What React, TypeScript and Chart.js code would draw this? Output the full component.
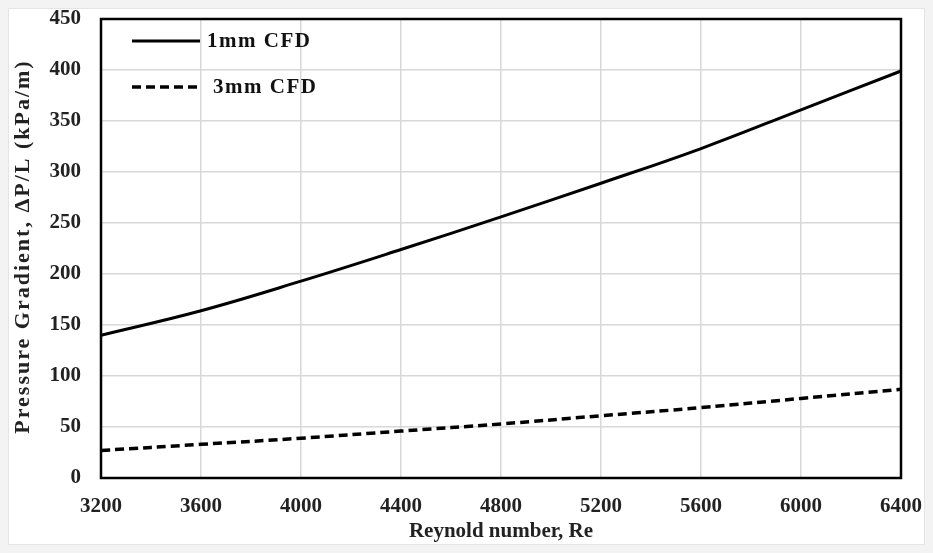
import { useEffect, useRef } from "react";
import { Chart, registerables } from "chart.js";

Chart.register(...registerables);

const reynolds = [3200, 3600, 4000, 4400, 4800, 5200, 5600, 6000, 6400];
const cfd1mm = [140, 164, 193, 224, 256, 289, 323, 361, 399];
const cfd3mm = [27, 33, 39, 46, 53, 61, 69, 78, 87];
const seriesNames = ["1mm CFD", "3mm CFD"];
const xTitle = "Reynold number, Re";
const yTitle = "Pressure Gradient, \u0394P/L (kPa/m)";

const FONT = "'Liberation Serif', 'Times New Roman', serif";

const boxAndLegend = {
  id: "boxAndLegend",
  afterDatasetsDraw(chart: any) {
    const { ctx, chartArea } = chart;
    ctx.save();
    ctx.strokeStyle = "#000";
    ctx.lineWidth = 2.5;
    ctx.strokeRect(chartArea.left, chartArea.top, chartArea.right - chartArea.left, chartArea.bottom - chartArea.top);
    const items = chart.data.datasets;
    const x0 = chartArea.left + 31;
    const x1 = chartArea.left + 99;
    const ys = [chartArea.top + 22, chartArea.top + 68];
    const tx = [chartArea.left + 106, chartArea.left + 112];
    items.forEach((ds: any, i: number) => {
      ctx.beginPath();
      ctx.lineWidth = ds.borderWidth;
      ctx.setLineDash(ds.borderDash || []);
      ctx.moveTo(x0, ys[i]);
      ctx.lineTo(x1, ys[i]);
      ctx.stroke();
      ctx.setLineDash([]);
      ctx.fillStyle = "#111";
      ctx.font = `bold 21px ${FONT}`;
      (ctx as any).letterSpacing = "1.5px";
      ctx.textBaseline = "middle";
      ctx.textAlign = "left";
      ctx.fillText(ds.label, tx[i], ys[i] + 1);
    });
    // y-axis title
    (ctx as any).letterSpacing = "2px";
    ctx.font = `bold 22px ${FONT}`;
    ctx.fillStyle = "#222";
    ctx.translate(14, (chartArea.top + chartArea.bottom) / 2 - 2);
    ctx.rotate(-Math.PI / 2);
    ctx.textAlign = "center";
    ctx.textBaseline = "middle";
    ctx.fillText(yTitle, 0, 0);
    ctx.restore();
  },
};

export default function App() {
  const ref = useRef<HTMLCanvasElement>(null);
  useEffect(() => {
    document.body.style.background = "#f3f3f3";
    const chart = new Chart(ref.current!, {
      type: "line",
      data: {
        datasets: [
          {
            label: seriesNames[0],
            data: reynolds.map((x, i) => ({ x, y: cfd1mm[i] })),
            borderColor: "#000",
            borderWidth: 3,
            pointRadius: 0,
            tension: 0.4,
            fill: false,
          },
          {
            label: seriesNames[1],
            data: reynolds.map((x, i) => ({ x, y: cfd3mm[i] })),
            borderColor: "#000",
            borderWidth: 3.5,
            borderDash: [9, 5],
            pointRadius: 0,
            tension: 0.4,
            fill: false,
          },
        ],
      },
      options: {
        animation: false,
        responsive: false,
        layout: { padding: { left: 0, top: 10, right: 23, bottom: 0 } },
        plugins: { legend: { display: false }, tooltip: { enabled: false } },
        scales: {
          x: {
            type: "linear",
            min: 3200,
            max: 6400,
            ticks: {
              stepSize: 400,
              color: "#222",
              font: { family: FONT, size: 21, weight: "bold" },
              padding: 16,
              maxRotation: 0,
              callback: (v: any) => String(v),
            },
            grid: { color: "#d8d8d8", lineWidth: 1.5, drawTicks: false },
            border: { display: false },
            title: {
              display: true,
              text: xTitle,
              color: "#222",
              font: { family: FONT, size: 21, weight: "bold" },
              padding: { top: 0, bottom: 0 },
            },
            afterFit(scale: any) {
              scale.height = 66;
              scale.paddingLeft = 0;
              scale.paddingRight = 0;
            },
          },
          y: {
            min: 0,
            max: 450,
            ticks: {
              stepSize: 50,
              color: "#222",
              font: { family: FONT, size: 21, weight: "bold" },
              padding: 20,
              callback: (v: any) => String(v),
            },
            grid: { color: "#d8d8d8", lineWidth: 1.5, drawTicks: false },
            border: { display: false },
            title: { display: false, text: yTitle },
            afterFit(scale: any) {
              scale.width = 92;
              scale.paddingTop = 0;
              scale.paddingBottom = 0;
            },
          },
        },
      },
      plugins: [boxAndLegend],
    });
    return () => chart.destroy();
  }, []);
  return (
    <div style={{ width: 917, height: 537, background: "#fff", boxSizing: "border-box", border: "1px solid #e4e4e4" }}>
      <canvas ref={ref} width={915} height={535} />
    </div>
  );
}
